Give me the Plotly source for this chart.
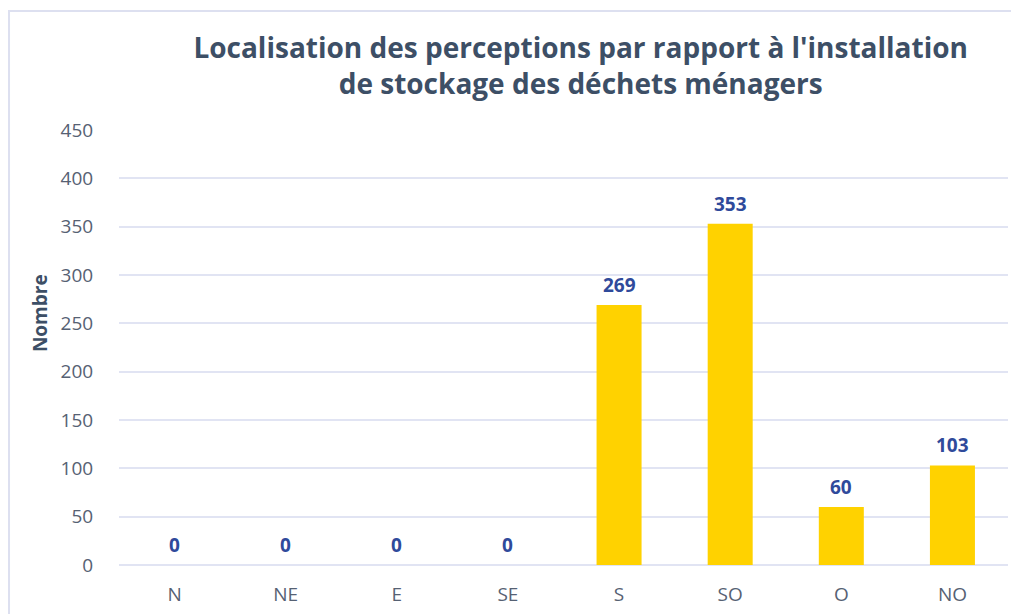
import plotly.graph_objects as go

categories = ["N", "NE", "E", "SE", "S", "SO", "O", "NO"]
values = [0, 0, 0, 0, 269, 353, 60, 103]
y_ticks = [0, 50, 100, 150, 200, 250, 300, 350, 400, 450]

title_text = "Localisation des perceptions par rapport à l'installation<br>de stockage des déchets ménagers"
y_title = "Nombre"

FONT = "Open Sans, Noto Sans, sans-serif"

fig = go.Figure()
fig.add_trace(go.Bar(
    x=categories, y=values,
    marker=dict(color="#FFD200", line=dict(width=0)),
    hoverinfo="x+y",
))

for c, v in zip(categories, values):
    fig.add_annotation(
        x=c, y=v, text=f"<b>{v}</b>", showarrow=False,
        yanchor="bottom", yshift=5,
        font=dict(family=FONT, size=19, color="#2F4A9B"),
    )

# y-axis title placed as annotation (positioned above plot centre like the reference)
fig.add_annotation(
    xref="paper", yref="paper", x=-0.0889, y=0.579,
    text=f"<b>{y_title}</b>", showarrow=False, textangle=-90,
    xanchor="center", yanchor="middle",
    font=dict(family=FONT, size=19, color="#3D4F66"),
)

fig.update_layout(
    width=1019, height=614,
    paper_bgcolor="white", plot_bgcolor="white",
    margin=dict(l=111, r=19, t=122, b=57),
    bargap=0.595,
    showlegend=False,
    font=dict(family=FONT, color="#566173"),
    title=dict(
        text=f"<b>{title_text}</b>",
        x=0.562, xref="container", xanchor="center",
        y=0.919, yref="container", yanchor="middle",
        font=dict(family=FONT, size=28, color="#3D4F66"),
    ),
    shapes=[dict(
        type="rect", xref="paper", yref="paper",
        x0=-0.1237, x1=1.05, y0=-0.3, y1=1.2736,
        line=dict(color="#DDE0F0", width=2), fillcolor="rgba(0,0,0,0)",
        layer="below",
    )],
)

fig.update_xaxes(
    showgrid=False, showline=False, zeroline=False,
    tickfont=dict(family=FONT, size=19, color="#566173"),
    ticks="outside", ticklen=0, ticklabelstandoff=12,
)
fig.update_yaxes(
    range=[0, 450], tickvals=y_ticks,
    showgrid=True, gridcolor="#E1E4F3", gridwidth=1.5,
    zeroline=True, zerolinecolor="#E1E4F3", zerolinewidth=1.5,
    showline=False,
    tickfont=dict(family=FONT, size=19, color="#566173"),
    ticks="outside", ticklen=0, ticklabelstandoff=21,
)

fig.write_html("out.html")
